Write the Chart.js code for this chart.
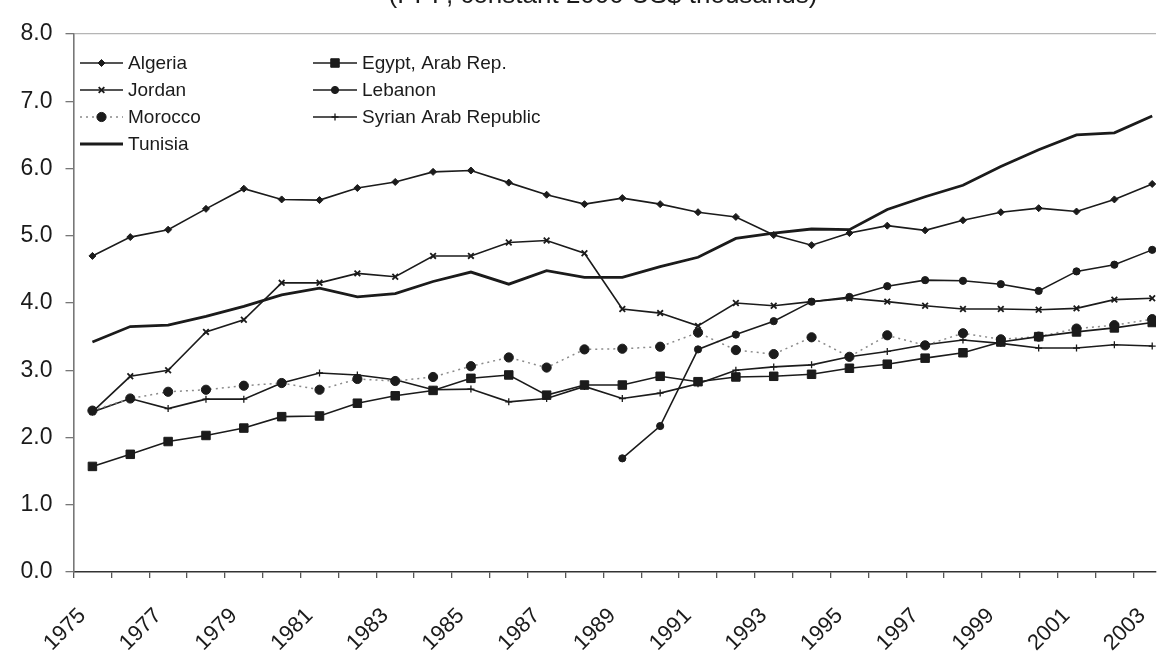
<!DOCTYPE html>
<html><head><meta charset="utf-8">
<script src="https://cdn.jsdelivr.net/npm/chart.js@4.4.1/dist/chart.umd.min.js"></script>
<style>html,body{margin:0;padding:0;background:#fff;overflow:hidden}#wrap{width:1163px;height:654px;position:relative}</style>
</head><body><div id="wrap"><canvas id="c" width="1163" height="654"></canvas></div>
<script>
const years = [1975,1976,1977,1978,1979,1980,1981,1982,1983,1984,1985,1986,1987,1988,1989,1990,1991,1992,1993,1994,1995,1996,1997,1998,1999,2000,2001,2002,2003];
const tickLabels = ['1975','1977','1979','1981','1983','1985','1987','1989','1991','1993','1995','1997','1999','2001','2003'];
const yTicks = [0,1,2,3,4,5,6,7,8];
const titleText = '(PPP, constant 2000 US$ thousands)';

const algeria = [4.70,4.98,5.09,5.40,5.70,5.54,5.53,5.71,5.80,5.95,5.97,5.79,5.61,5.47,5.56,5.47,5.35,5.28,5.01,4.86,5.04,5.15,5.08,5.23,5.35,5.41,5.36,5.54,5.77];
const egypt   = [1.57,1.75,1.94,2.03,2.14,2.31,2.32,2.51,2.62,2.70,2.88,2.93,2.63,2.78,2.78,2.91,2.83,2.90,2.91,2.94,3.03,3.09,3.18,3.26,3.42,3.50,3.57,3.63,3.71];
const jordan  = [2.38,2.91,3.00,3.57,3.75,4.30,4.30,4.44,4.39,4.70,4.70,4.90,4.93,4.74,3.91,3.85,3.66,4.00,3.96,4.02,4.07,4.02,3.96,3.91,3.91,3.90,3.92,4.05,4.07];
const lebanon = [null,null,null,null,null,null,null,null,null,null,null,null,null,null,1.69,2.17,3.31,3.53,3.73,4.02,4.09,4.25,4.34,4.33,4.28,4.18,4.47,4.57,4.79];
const morocco = [2.40,2.58,2.68,2.71,2.77,2.81,2.71,2.87,2.84,2.90,3.06,3.19,3.04,3.31,3.32,3.35,3.56,3.30,3.24,3.49,3.20,3.52,3.37,3.55,3.46,3.50,3.62,3.67,3.76];
const syria   = [2.38,2.58,2.43,2.57,2.57,2.81,2.96,2.93,2.86,2.71,2.72,2.53,2.58,2.76,2.58,2.66,2.80,3.00,3.05,3.08,3.20,3.28,3.38,3.45,3.40,3.33,3.33,3.38,3.36];
const tunisia = [3.42,3.65,3.67,3.80,3.95,4.12,4.22,4.09,4.14,4.32,4.46,4.28,4.48,4.38,4.38,4.54,4.68,4.96,5.04,5.10,5.09,5.39,5.58,5.75,6.03,6.28,6.50,6.53,6.78];

const FONT = '"Liberation Sans", Arial, sans-serif';
const INK = '#1b1b1b';
const pts = arr => years.map((yr,i) => ({x: yr, y: arr[i]}));

const base = {borderColor: INK, borderWidth: 1.6, pointBackgroundColor: INK, pointBorderColor: INK, pointBorderWidth: 1, tension: 0, fill: false, spanGaps: false};
const datasets = [
  Object.assign({}, base, {label: 'Algeria', data: pts(algeria), pointStyle: 'rectRot', pointRadius: 3.5, legendCol: 0, legendRow: 0}),
  Object.assign({}, base, {label: 'Egypt, Arab Rep.', data: pts(egypt), pointStyle: 'rect', pointRadius: 6, legendCol: 1, legendRow: 0}),
  Object.assign({}, base, {label: 'Jordan', data: pts(jordan), pointStyle: 'crossRot', pointRadius: 4, pointBorderWidth: 1.8, legendCol: 0, legendRow: 1}),
  Object.assign({}, base, {label: 'Lebanon', data: pts(lebanon), pointStyle: 'circle', pointRadius: 3.6, legendCol: 1, legendRow: 1}),
  Object.assign({}, base, {label: 'Morocco', data: pts(morocco), borderColor: '#8a8a8a', borderDash: [2,4], borderWidth: 1.5, pointStyle: 'circle', pointRadius: 4.6, legendCol: 0, legendRow: 2}),
  Object.assign({}, base, {label: 'Syrian Arab Republic', data: pts(syria), pointStyle: 'cross', pointRadius: 3.5, pointBorderWidth: 1.3, legendCol: 1, legendRow: 2}),
  Object.assign({}, base, {label: 'Tunisia', data: pts(tunisia), borderWidth: 2.8, pointRadius: 0, legendCol: 0, legendRow: 3})
];

const tickValues = [];
years.forEach(y => { tickValues.push(y - 0.5); tickValues.push(y); });

const overlay = {
  id: 'overlay',
  afterDraw(chart) {
    const ctx = chart.ctx;
    ctx.save();
    ctx.fillStyle = INK;
    ctx.font = '26px ' + FONT;
    ctx.textAlign = 'center';
    ctx.textBaseline = 'alphabetic';
    ctx.fillText(titleText, 603, 3);
    const colX = [[80, 123, 128], [313, 357, 362]];
    const rowY = [63, 90, 117, 144];
    ctx.font = '19px ' + FONT;
    ctx.textAlign = 'left';
    ctx.textBaseline = 'middle';
    chart.data.datasets.forEach(ds => {
      const c = colX[ds.legendCol], y = rowY[ds.legendRow];
      ctx.save();
      ctx.strokeStyle = ds.borderColor;
      ctx.lineWidth = ds.borderWidth;
      ctx.setLineDash(ds.borderDash || []);
      ctx.beginPath(); ctx.moveTo(c[0], y); ctx.lineTo(c[1], y); ctx.stroke();
      ctx.setLineDash([]);
      if (ds.pointRadius > 0) {
        ctx.fillStyle = ds.pointBackgroundColor;
        ctx.strokeStyle = ds.pointBorderColor;
        ctx.lineWidth = ds.pointBorderWidth;
        Chart.helpers.drawPoint(ctx, {pointStyle: ds.pointStyle, radius: ds.pointRadius, rotation: 0, borderWidth: ds.pointBorderWidth}, (c[0] + c[1]) / 2, y);
      }
      ctx.restore();
      ctx.fillStyle = INK;
      ctx.fillText(ds.label, c[2], y + 1);
    });
    ctx.restore();
  }
};

new Chart(document.getElementById('c'), {
  type: 'line',
  data: {datasets},
  plugins: [overlay],
  options: {
    responsive: false,
    animation: false,
    layout: {padding: {top: 34, right: 0, left: 0, bottom: 0}},
    plugins: {legend: {display: false}, tooltip: {enabled: false}, title: {display: false}},
    scales: {
      x: {
        type: 'linear', min: 1974.5, max: 2003.1,
        afterBuildTicks: s => { s.ticks = tickValues.filter(v => v >= s.min && v <= s.max).map(v => ({value: v})); },
        afterFit: s => { s.height = 82; s.paddingRight = -6; s.paddingLeft = 0; },
        ticks: {
          autoSkip: false, maxRotation: 45, minRotation: 45, padding: 25, labelOffset: -10,
          font: {family: FONT, size: 22}, color: INK,
          callback: v => (tickLabels.indexOf(String(v)) >= 0 ? tickLabels[tickLabels.indexOf(String(v))] : '')
        },
        grid: {drawOnChartArea: false, tickLength: 6, lineWidth: 1.3,
          tickColor: c => (c.tick && !Number.isInteger(c.tick.value)) ? '#555' : 'rgba(0,0,0,0)',
          color: c => (c.tick && !Number.isInteger(c.tick.value)) ? '#555' : 'rgba(0,0,0,0)'},
        border: {color: '#333', width: 1.6}
      },
      y: {
        min: 0, max: 8,
        afterBuildTicks: s => { s.ticks = yTicks.map(v => ({value: v})); },
        afterFit: s => { s.width = 73.5; },
        ticks: {padding: 13, font: {family: FONT, size: 23}, color: INK, callback: v => Number(v).toFixed(1)},
        grid: {drawOnChartArea: true, tickLength: 8, lineWidth: 1.3,
          color: c => (c.tick && c.tick.value === 8) ? '#b5b5b5' : 'rgba(0,0,0,0)',
          tickColor: '#777'},
        border: {color: '#777', width: 1.6}
      }
    }
  }
});
</script></body></html>
